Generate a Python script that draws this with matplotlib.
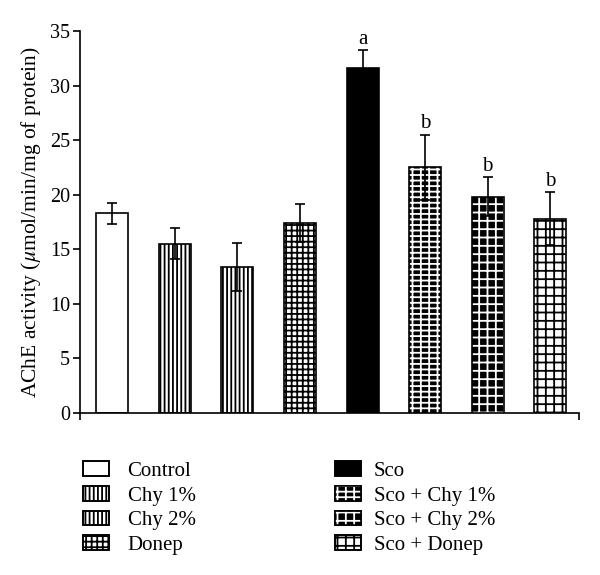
import matplotlib
matplotlib.use("Agg")
import matplotlib.pyplot as plt
from matplotlib.patches import Patch

plt.rcParams["font.family"] = ["Liberation Serif", "DejaVu Serif"]
plt.rcParams["mathtext.fontset"] = "stix"
plt.rcParams["hatch.linewidth"] = 1.3

groups = ["Control", "Chy 1%", "Chy 2%", "Donep",
          "Sco", "Sco + Chy 1%", "Sco + Chy 2%", "Sco + Donep"]
means = [18.3, 15.5, 13.4, 17.4, 31.6, 22.5, 19.8, 17.8]
errors = [0.95, 1.4, 2.2, 1.75, 1.65, 3.0, 1.8, 2.4]
letters = ["", "", "", "", "a", "b", "b", "b"]

# (facecolor, hatch, hatch colour) per group
styles = [
    ("white", None, "black"),
    ("white", "||||", "black"),
    ("white", "||||", "black"),
    ("white", "+++", "black"),
    ("black", None, "white"),
    ("black", "||---", "white"),
    ("black", "++", "white"),
    ("white", "++", "black"),
]

fig = plt.figure(figsize=(6.0, 5.75), dpi=100)
ax = fig.add_axes([0.133, 0.282, 0.832, 0.664])

x = list(range(len(groups)))
width = 0.51
handles = []
for i, (fc, hatch, hc) in enumerate(styles):
    ax.bar(x[i], means[i], width, color=fc, edgecolor="none", zorder=2)
    parts = [Patch(facecolor=fc, edgecolor="black", linewidth=1.2)]
    if hatch:
        ax.bar(x[i], means[i], width, color="none", edgecolor=hc,
               hatch=hatch, linewidth=0, zorder=3)
        parts.append(Patch(facecolor="none", edgecolor=hc, hatch=hatch,
                           linewidth=0))
    ax.bar(x[i], means[i], width, color="none", edgecolor="black",
           linewidth=1.2, zorder=4)
    parts.append(Patch(facecolor="none", edgecolor="black", linewidth=1.2))
    handles.append(tuple(parts))

ax.errorbar(x, means, yerr=errors, fmt="none", ecolor="black",
            elinewidth=1.2, capsize=3.5, capthick=1.2, zorder=5)
for i, lab in enumerate(letters):
    if lab:
        ax.text(x[i], means[i] + errors[i] + 0.15, lab, ha="center",
                va="bottom", fontsize=15)

ax.set_xlim(-0.52, 7.46)
ax.set_ylim(0, 35)
ax.set_yticks(range(0, 36, 5))
ax.set_xticks([-0.52, 7.46])
ax.set_xticklabels([])
ax.tick_params(axis="both", direction="out", length=5, width=1.2,
               labelsize=14.5, pad=2)
ax.spines["top"].set_visible(False)
ax.spines["right"].set_visible(False)
ax.spines["left"].set_linewidth(1.2)
ax.spines["bottom"].set_linewidth(1.2)
ax.set_ylabel(r"AChE activity ($\mu$mol/min/mg of protein)", fontsize=15.5,
              labelpad=5)

leg_kw = dict(loc="upper left", frameon=False, fontsize=15,
              handlelength=1.25, handleheight=0.72,
              labelspacing=0.24, borderaxespad=0, borderpad=0)
fig.legend(handles[:4], groups[:4], bbox_to_anchor=(0.138, 0.198),
           handletextpad=0.9, **leg_kw)
fig.legend(handles[4:], groups[4:], bbox_to_anchor=(0.558, 0.198),
           handletextpad=0.62, **leg_kw)

fig.savefig("out.png", dpi=100)
